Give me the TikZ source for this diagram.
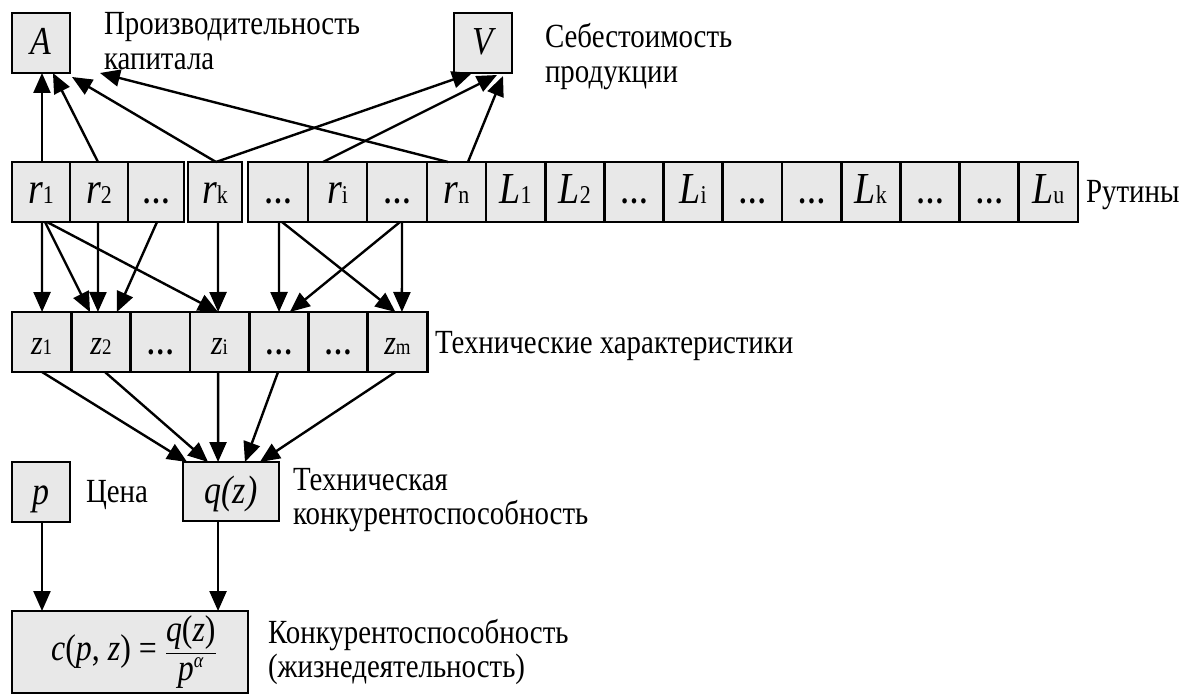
\documentclass[tikz,border=0pt]{standalone}
\usepackage{graphicx}
\usepackage{fontspec}
\setmainfont{Liberation Serif}
\usetikzlibrary{arrows.meta}
\definecolor{boxfill}{RGB}{232,232,232}
\newcommand{\myT}[1]{\scalebox{1}[1.17]{#1}}
\newcommand{\myR}[2]{\myT{{\fontsize{38}{38}\selectfont\itshape #1}{\fontsize{22}{22}\selectfont #2}}}
\newcommand{\myZ}[2]{\myT{{\fontsize{30}{30}\selectfont\itshape #1}{\fontsize{19}{19}\selectfont #2}}}
\newcommand{\myD}{\myT{\fontsize{28}{28}\selectfont\bfseries …}}
\newcommand{\myI}[1]{\myT{\fontsize{34}{34}\selectfont\itshape #1}}
\newcommand{\myL}[1]{\myT{\fontsize{29}{30}\selectfont\begin{tabular}[t]{@{}l@{}}#1\end{tabular}}}
\tikzset{
  cellbox/.style={draw, line width=2.8bp, fill=boxfill, minimum height=60bp,
    inner sep=0pt, outer sep=0pt, anchor=west, text height=30bp, text depth=6bp},
  lab/.style={inner sep=0pt, outer sep=0pt, anchor=base west},
  arr/.style={line width=2.4bp, -{Triangle[length=20bp,width=17bp]}}
}
\begin{document}
\begin{tikzpicture}[x=1bp,y=-1bp]
\useasboundingbox (0,0) rectangle (1188,696);
% top boxes
\node[cellbox, minimum width=58bp] (A) at (12,43) {\myI{A}};
\node[cellbox, minimum width=58bp] (V) at (454,43) {\myI{V}};
\node[lab] (labA) at (104,35) {\myL{Производительность\\капитала}};
\node[lab] (labV) at (545,48) {\myL{Себестоимость\\продукции}};
% routines row
\node[cellbox, minimum width=58bp] (r1) at (12,192) {\myR{r}{1}};
\node[cellbox, minimum width=58bp] (r2) at (70,192) {\myR{r}{2}};
\node[cellbox, minimum width=56bp] (r3) at (128,192) {\myD};
\node[cellbox, minimum width=54bp] (rk) at (188,192) {\myR{r}{k}};
\node[cellbox, minimum width=60bp] (r5) at (248,192) {\myD};
\node[cellbox, minimum width=59bp] (ri) at (308,192) {\myR{r}{i}};
\node[cellbox, minimum width=60bp] (r7) at (367,192) {\myD};
\node[cellbox, minimum width=59bp] (rn) at (427,192) {\myR{r}{n}};
\node[cellbox, minimum width=59.2bp] (L1) at (486,192) {\myR{L}{1}};
\node[cellbox, minimum width=59.2bp] (L2) at (545.2,192) {\myR{L}{2}};
\node[cellbox, minimum width=59.2bp] (L3) at (604.4,192) {\myD};
\node[cellbox, minimum width=59.2bp] (L4) at (663.6,192) {\myR{L}{i}};
\node[cellbox, minimum width=59.2bp] (L5) at (722.8,192) {\myD};
\node[cellbox, minimum width=59.2bp] (L6) at (782,192) {\myD};
\node[cellbox, minimum width=59.2bp] (L7) at (841.2,192) {\myR{L}{k}};
\node[cellbox, minimum width=59.2bp] (L8) at (900.4,192) {\myD};
\node[cellbox, minimum width=59.2bp] (L9) at (959.6,192) {\myD};
\node[cellbox, minimum width=59.2bp] (L10) at (1018.8,192) {\myR{L}{u}};
\node[lab] (labR) at (1086,203) {\myL{Рутины}};
% characteristics row
\node[cellbox, minimum width=59.3bp] (z1) at (12,342) {\myZ{z}{1}};
\node[cellbox, minimum width=59.3bp] (z2) at (71.3,342) {\myZ{z}{2}};
\node[cellbox, minimum width=59.3bp] (z3) at (130.6,342) {\myD};
\node[cellbox, minimum width=59.3bp] (zi) at (189.9,342) {\myZ{z}{i}};
\node[cellbox, minimum width=59.3bp] (z5) at (249.2,342) {\myD};
\node[cellbox, minimum width=59.3bp] (z6) at (308.5,342) {\myD};
\node[cellbox, minimum width=59.3bp] (zm) at (367.8,342) {\myZ{z}{m}};
\node[lab] (labZ) at (435,353) {\myL{Технические характеристики}};
% price and quality
\node[cellbox, minimum width=58bp] (p) at (12,492) {\myI{p}};
\node[lab] (labP) at (86,502) {\myL{Цена}};
\node[cellbox, minimum width=96bp, minimum height=59bp] (q) at (183,491.5) {\myI{q(z)}};
\node[lab] (labQ) at (293,490) {\myL{Техническая\\конкурентоспособность}};
% competitiveness
\node[draw, line width=2.8bp, fill=boxfill, inner sep=0pt, outer sep=0pt, anchor=west,
  minimum width=236bp, minimum height=82bp] (c) at (12,652)
  {\hspace*{8bp}\myT{\fontsize{32}{36}\selectfont
   $\mbox{\textit{c}(\textit{p}, \textit{z}) = }\displaystyle
    \frac{\mbox{\textit{q}(\textit{z})}}{\mbox{\textit{p}\raisebox{11bp}{\fontsize{18}{18}\selectfont\textit{α}}}}$}};
\node[lab] (labC) at (268,643) {\myL{Конкурентоспособность\\(жизнедеятельность)}};
% arrows to A and V
\draw[arr] ([xshift=1]r1.north) -- ([xshift=1]A.south);
\draw[arr] ([xshift=-1]r2.north) -- ([xshift=12]A.south);
\draw[arr] ([xshift=1]rk.north) -- ([shift={(2,4)}]A.south east);
\draw[arr] ([xshift=-8.5]rn.north) -- ([shift={(30,0)}]A.south east);
\draw[arr] ([xshift=1]rk.north) -- ([xshift=-11]V.south);
\draw[arr] ([xshift=-14.5]ri.north) -- ([shift={(14,2)}]V.south);
\draw[arr] ([xshift=11.5]rn.north) -- ([shift={(20,3)}]V.south);
% routines to characteristics
\draw[arr] ([xshift=1]r1.south) -- ([xshift=0.4]z1.north);
\draw[arr] ([xshift=4]r1.south) -- ([xshift=-11]z2.north);
\draw[arr] ([xshift=6]r1.south) -- ([xshift=-1.5]zi.north);
\draw[arr] ([xshift=-1]r2.south) -- ([xshift=-3]z2.north);
\draw[arr] ([xshift=1]r3.south) -- ([xshift=16]z2.north);
\draw[arr] ([xshift=3]rk.south) -- ([xshift=-1.5]zi.north);
\draw[arr] ([xshift=1]r5.south) -- ([xshift=0.2]z5.north);
\draw[arr] ([xshift=4]r5.south) -- ([xshift=-2]zm.north);
\draw[arr] ([xshift=5]r7.south) -- ([xshift=4.5]zm.north);
\draw[arr] ([xshift=3]r7.south) -- ([xshift=11]z5.north);
% characteristics to q
\draw[arr] ([xshift=0.4]z1.south) -- ([xshift=-44]q.north);
\draw[arr] ([xshift=4]z2.south) -- ([xshift=-23]q.north);
\draw[arr] ([xshift=-1.5]zi.south) -- ([xshift=-13]q.north);
\draw[arr] ([xshift=-0.8]z5.south) -- ([xshift=14]q.north);
\draw[arr] ([xshift=-2]zm.south) -- ([xshift=29]q.north);
% to c
\draw[arr] ([xshift=1]p.south) -- ([xshift=1]p.south |- c.north);
\draw[arr] ([xshift=-13]q.south) -- ([xshift=-13]q.south |- c.north);
\end{tikzpicture}
\end{document}
